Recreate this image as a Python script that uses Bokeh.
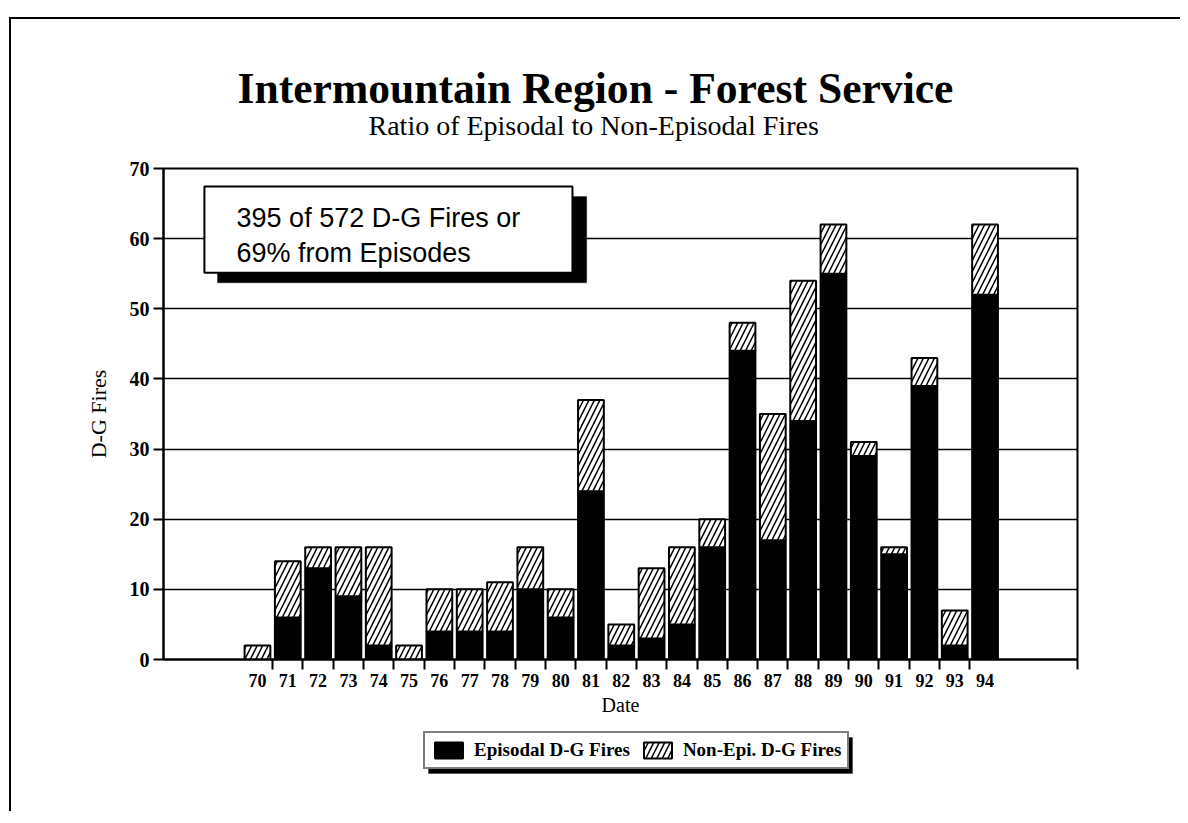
from bokeh.plotting import figure
from bokeh.layouts import column
from bokeh.models import (FixedTicker, Range1d, BoxAnnotation, Label, Legend,
                          LegendItem, ColumnDataSource, Title)
from bokeh.embed import file_html
from bokeh.resources import INLINE

# ---------------- data ----------------
years = [70, 71, 72, 73, 74, 75, 76, 77, 78, 79, 80, 81, 82,
         83, 84, 85, 86, 87, 88, 89, 90, 91, 92, 93, 94]
year_labels = [str(y) for y in years]
episodal = [0, 6, 13, 9, 2, 0, 4, 4, 4, 10, 6, 24, 2,
            3, 5, 16, 44, 17, 34, 55, 29, 15, 39, 2, 52]
non_episodal = [2, 8, 3, 7, 14, 2, 6, 6, 7, 6, 4, 13, 3,
                10, 11, 4, 4, 18, 20, 7, 2, 1, 4, 5, 10]
y_ticks = [0, 10, 20, 30, 40, 50, 60, 70]
series_names = ["Episodal D-G Fires", "Non-Epi. D-G Fires"]

total_epi = sum(episodal)
total_all = sum(episodal) + sum(non_episodal)
note_line1 = f"{total_epi} of {total_all} D-G Fires or"
note_line2 = f"{round(100 * total_epi / total_all)}% from Episodes"

SERIF = "Liberation Serif"
SANS = "Liberation Sans"

x_start, x_end = 66.9, 97.05
W = 1169
FW = 914

p = figure(frame_width=FW, frame_height=491, output_backend="svg", toolbar_location=None,
           x_range=Range1d(x_start, x_end), y_range=Range1d(0, 70),
           min_border_left=152, min_border_top=149, min_border_right=103,
           min_border_bottom=66, background_fill_color="white",
           border_fill_color="white")

p.outline_line_color = "black"
p.outline_line_width = 2

bar_style = dict(fill_color=["black", "white"], line_color="black", line_width=2,
                 hatch_pattern=[" ", "/"], hatch_color="black",
                 hatch_scale=11, hatch_weight=1.5)

src = ColumnDataSource(dict(year=years, epi=episodal, non=non_episodal))
rs = p.vbar_stack(["epi", "non"], x="year", width=0.85, source=src, **bar_style)

# grid
p.xgrid.visible = False
p.ygrid.ticker = FixedTicker(ticks=y_ticks)
p.ygrid.grid_line_color = "black"
p.ygrid.grid_line_width = 1.6

# x axis
boundaries = [y + 0.5 for y in years[:-1]] + [x_end]
p.xaxis.ticker = FixedTicker(ticks=years, minor_ticks=boundaries)
p.xaxis.major_label_overrides = {y: l for y, l in zip(years, year_labels)}
p.xaxis.major_tick_line_color = None
p.xaxis.major_tick_out = 10
p.xaxis.major_tick_in = 0
p.xaxis.minor_tick_line_color = "black"
p.xaxis.minor_tick_line_width = 2
p.xaxis.minor_tick_out = 10
p.xaxis.minor_tick_in = 0
p.xaxis.axis_line_width = 2
p.xaxis.axis_line_color = "black"
p.xaxis.major_label_text_font = SERIF
p.xaxis.major_label_text_font_style = "bold"
p.xaxis.major_label_text_font_size = "18px"
p.xaxis.major_label_text_color = "black"
p.xaxis.major_label_standoff = 4
p.xaxis.axis_label = "Date"
p.xaxis.axis_label_text_font = SERIF
p.xaxis.axis_label_text_font_style = "normal"
p.xaxis.axis_label_text_font_size = "20px"
p.xaxis.axis_label_text_color = "black"
p.xaxis.axis_label_standoff = 4

# y axis
p.yaxis.ticker = FixedTicker(ticks=y_ticks)
p.yaxis.major_tick_out = 10
p.yaxis.major_tick_in = 0
p.yaxis.major_tick_line_width = 2
p.yaxis.major_tick_line_color = "black"
p.yaxis.minor_tick_line_color = None
p.yaxis.axis_line_width = 2
p.yaxis.axis_line_color = "black"
p.yaxis.major_label_text_font = SERIF
p.yaxis.major_label_text_font_style = "bold"
p.yaxis.major_label_text_font_size = "20px"
p.yaxis.major_label_text_color = "black"
p.yaxis.major_label_standoff = 4
p.yaxis.axis_label = "D-G Fires"
p.yaxis.axis_label_text_font = SERIF
p.yaxis.axis_label_text_font_style = "normal"
p.yaxis.axis_label_text_font_size = "22px"
p.yaxis.axis_label_text_color = "black"
p.yaxis.axis_label_standoff = 16

# titles (subtitle added first so it sits nearest the frame)
p.add_layout(Title(text="Ratio of Episodal to Non-Episodal Fires", align="left",
                   offset=205, standoff=56, text_font=SERIF, text_font_style="normal",
                   text_font_size="28px", text_color="black"), "above")
p.add_layout(Title(text="Intermountain Region - Forest Service", align="left",
                   offset=74, standoff=-64, text_font=SERIF, text_font_style="bold",
                   text_font_size="43.6px", text_color="black"), "above")

# annotation box with drop shadow
p.add_layout(BoxAnnotation(left=68.68, right=80.86, bottom=53.7, top=66,
                           fill_color="black", fill_alpha=1, line_color="black"))
p.add_layout(BoxAnnotation(left=68.25, right=80.39, bottom=55.14, top=67.43,
                           fill_color="white", fill_alpha=1, line_color="black",
                           line_width=2, line_alpha=1))
p.add_layout(Label(x=69.31, y=63.0, text=note_line1, text_font=SANS,
                   text_font_size="27px", text_baseline="alphabetic", text_color="black"))
p.add_layout(Label(x=69.31, y=58.0, text=note_line2, text_font=SANS,
                   text_font_size="27px", text_baseline="alphabetic", text_color="black"))

# ---------------- legend strip ----------------
# its frame lines up with the main frame; 1 data unit = 1 pixel.
# The legend's renderers are hidden (they only supply the legend swatches).
LH = 56
q = figure(width=W, height=LH, output_backend="svg", toolbar_location=None,
           x_range=Range1d(-FW, 0), y_range=Range1d(0, LH),
           x_axis_location=None, y_axis_location=None,
           min_border_left=0, min_border_right=0, min_border_top=0, min_border_bottom=0,
           background_fill_color="white", border_fill_color="white")
q.outline_line_color = None
q.grid.visible = False
lr = q.vbar_stack(["epi", "non"], x="year", width=0.85, source=src, **bar_style)
for r in lr:
    r.visible = False

leg_x, leg_y, leg_w, leg_h = 260, 12, 424, 36
q.add_layout(BoxAnnotation(left=leg_x + 5 - FW, right=leg_x + leg_w + 5 - FW,
                           bottom=leg_y - 4, top=leg_y + leg_h - 4,
                           fill_color="black", fill_alpha=1, line_color="black"))
legend = Legend(items=[LegendItem(label=series_names[i], renderers=[lr[i]]) for i in range(2)],
                orientation="horizontal", location=(leg_x, leg_y), click_policy="none")
legend.border_line_color = "black"
legend.border_line_width = 2
legend.background_fill_color = "white"
legend.background_fill_alpha = 1
legend.inactive_fill_alpha = 0
legend.label_text_font = SERIF
legend.label_text_font_style = "bold"
legend.label_text_font_size = "19px"
legend.label_text_color = "black"
legend.glyph_width = 35
legend.glyph_height = 20
legend.spacing = 10
legend.padding = 6
legend.margin = 0
legend.label_standoff = 8
q.add_layout(legend, "center")

layout = column(p, q, spacing=0)
layout.styles = {"margin-top": "17px", "margin-left": "9px", "padding-bottom": "30px",
                 "border-top": "2px solid black", "border-left": "2px solid black"}

open("out.html", "w").write(file_html(layout, INLINE))
